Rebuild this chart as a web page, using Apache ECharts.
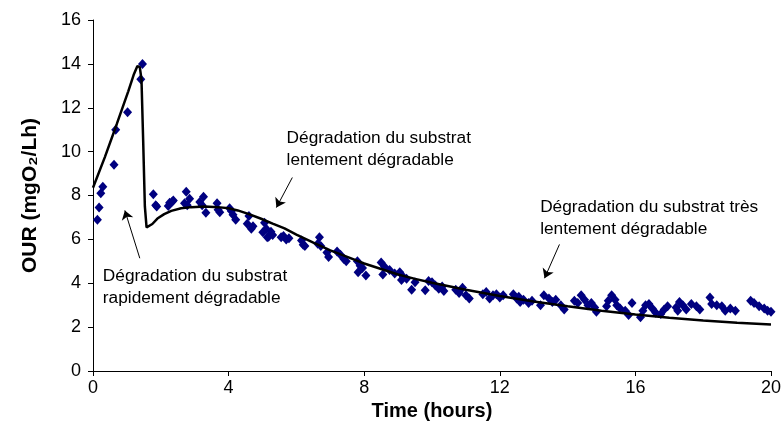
<!DOCTYPE html>
<html><head><meta charset="utf-8">
<script src="https://cdn.jsdelivr.net/npm/echarts@6/dist/echarts.min.js"></script>
<style>html,body{margin:0;padding:0;background:#fff}#c{width:784px;height:446px}</style>
</head><body><div id="c"></div>
<script>
// Measured OUR data (time in hours, OUR in mgO2/Lh)
var measuredTime = [0.13,0.18,0.23,0.29,0.62,0.67,1.02,1.41,1.46,
1.78,1.85,1.88,2.22,2.26,2.34,2.37,2.7,2.75,2.85,2.78,3.15,3.22,3.26,3.33,3.66,3.69,3.74,4.03,4.08,4.13,4.21,4.6,4.55,4.67,4.72,5.06,5.11,5.14,5.18,5.01,
5.25,5.3,5.55,5.62,5.7,5.78,6.15,6.2,6.25,6.68,6.63,6.72,6.9,6.95,7.2,7.3,7.4,7.47,7.8,7.88,7.95,7.82,8.05,8.5,8.6,8.55,8.75,
8.9,9.05,9.15,9.1,9.25,9.4,9.5,9.8,9.9,10.0,10.1,10.2,10.3,10.35,10.7,10.8,10.9,11.0,11.1,11.5,11.6,11.7,11.8,11.9,12.0,12.1,12.4,12.5,12.6,
12.56,12.7,12.85,12.95,13.3,13.2,13.45,13.55,13.65,13.8,13.9,14.2,14.3,14.4,14.5,14.6,14.7,14.8,14.85,15.15,15.2,15.3,15.4,15.45,15.55,15.7,15.8,15.9,16.15,16.22,16.3,
16.4,16.5,16.6,16.75,16.85,16.95,17.2,17.3,17.25,17.4,17.5,17.65,17.8,17.9,18.2,18.25,18.4,18.55,18.65,18.8,18.95,19.4,19.5,19.65,19.8,19.9,20.0];
var measuredOUR = [6.9,7.45,8.1,8.4,9.4,11.0,11.8,13.3,14.0,
8.06,7.55,7.5,7.52,7.67,7.73,7.77,7.65,8.17,7.85,7.55,7.7,7.55,7.94,7.21,7.65,7.35,7.24,7.42,7.29,7.12,6.9,7.06,6.71,6.48,6.6,6.76,6.48,6.1,6.12,6.33,
6.35,6.2,6.1,6.15,6.0,6.05,5.95,5.75,5.7,6.1,5.8,5.7,5.4,5.2,5.45,5.3,5.1,5.0,5.0,4.8,4.7,4.5,4.35,4.95,4.75,4.4,4.6,
4.45,4.5,4.3,4.15,4.2,3.7,4.05,3.68,4.1,4.05,3.9,3.75,3.85,3.65,3.7,3.55,3.8,3.45,3.3,3.5,3.6,3.3,3.45,3.5,3.35,3.45,3.5,3.3,3.15,
3.38,3.25,3.1,3.2,3.45,3.0,3.3,3.15,3.25,3.0,2.8,3.2,3.1,3.45,3.25,3.0,3.1,2.9,2.7,2.95,3.2,3.45,3.25,3.0,2.85,2.75,2.55,3.1,2.45,2.75,3.0,
3.05,2.85,2.65,2.6,2.8,2.95,2.9,3.15,2.75,3.0,2.8,3.05,2.95,2.8,3.35,3.05,3.0,2.95,2.75,2.85,2.75,3.2,3.1,2.95,2.85,2.75,2.7];

// Model curve
var modelTime = [0,0.35,0.7,1.04,1.2,1.31,1.38,1.43,1.48,1.53,1.58,1.62,1.75,1.9,2.1,2.31,2.6,2.9,3.3,3.68,4.0,4.27,4.6,4.96,5.3,5.65,6.0,6.5,7.0,7.5,8.0,8.5,9.0,9.5,10,11,12,13,14,15,16,17,18,19,20];
var modelOUR = [8.35,9.75,11.25,12.75,13.5,13.9,13.85,13.3,10.5,7.5,6.55,6.48,6.7,6.95,7.15,7.3,7.42,7.47,7.5,7.47,7.42,7.32,7.15,6.94,6.72,6.5,6.22,5.85,5.5,5.2,4.9,4.65,4.4,4.2,4.02,3.7,3.42,3.17,2.95,2.75,2.58,2.43,2.3,2.2,2.12];

// Axis ticks
var xMin = 0, xMax = 20, xStep = 4;
var yMin = 0, yMax = 16, yStep = 2;

// Annotations (data coords)
var noteTexts = ['Dégradation du substrat\nlentement dégradable','Dégradation du substrat très\nlentement dégradable','Dégradation du substrat\nrapidement dégradable'];
var noteAnchor = [[5.71,11.1],[13.19,7.95],[0.29,4.82]];
var arrowFrom = [[5.88,8.82],[13.76,5.77],[1.38,5.14]];
var arrowTo = [[5.41,7.45],[13.32,4.23],[0.94,7.32]];

var FONT = '"Liberation Sans", Arial, sans-serif';
var chart = echarts.init(document.getElementById('c'), null, {renderer:'canvas'});

var scatterData = measuredTime.map(function(t,i){return [t, measuredOUR[i]];});
var modelData = modelTime.map(function(t,i){return [t, modelOUR[i]];});
var arrows = arrowFrom.map(function(f,i){return [{coord:f},{coord:arrowTo[i]}];});

chart.setOption({
  animation:false,
  backgroundColor:'#fff',
  grid:{left:93,right:10,top:20,bottom:75,containLabel:false},
  xAxis:{type:'value',min:xMin,max:xMax,interval:xStep,
    name:'Time (hours)',nameLocation:'middle',nameGap:26,
    nameTextStyle:{fontFamily:FONT,fontWeight:'bold',fontSize:20,color:'#000'},
    axisLine:{lineStyle:{color:'#000',width:1}},
    axisTick:{show:true,inside:false,length:5,lineStyle:{color:'#000'}},
    axisLabel:{fontFamily:FONT,fontSize:18,color:'#000',margin:8},
    splitLine:{show:false}},
  yAxis:{type:'value',min:yMin,max:yMax,interval:yStep,
    name:'OUR (mgO₂/Lh)',nameLocation:'middle',nameGap:52,nameRotate:90,
    nameTextStyle:{fontFamily:FONT,fontWeight:'bold',fontSize:21,color:'#000'},
    axisLine:{show:true,lineStyle:{color:'#000',width:1}},
    axisTick:{show:true,inside:false,length:5,lineStyle:{color:'#000'}},
    axisLabel:{fontFamily:FONT,fontSize:18,color:'#000',margin:12},
    splitLine:{show:false}},
  series:[
    {type:'scatter',data:scatterData,symbol:'diamond',symbolSize:[9,10],
     itemStyle:{color:'#000080',opacity:1},z:2},
    {type:'line',data:modelData,showSymbol:false,symbol:'none',smooth:false,
     lineStyle:{color:'#000',width:2.5},z:3,
     markLine:{silent:true,symbol:['none','arrow'],symbolSize:9,
       lineStyle:{color:'#000',width:1,type:'solid'},label:{show:false},
       data:arrows}}
  ]
});

var gfx = noteTexts.map(function(txt,i){
  var p = chart.convertToPixel({gridIndex:0}, noteAnchor[i]);
  return {type:'text',x:p[0],y:p[1],silent:true,
    style:{text:txt,fontFamily:FONT,fontSize:17.3,fill:'#000',lineHeight:22,
      textAlign:'left',textVerticalAlign:'top'}};
});
chart.setOption({graphic:gfx});
</script></body></html>
